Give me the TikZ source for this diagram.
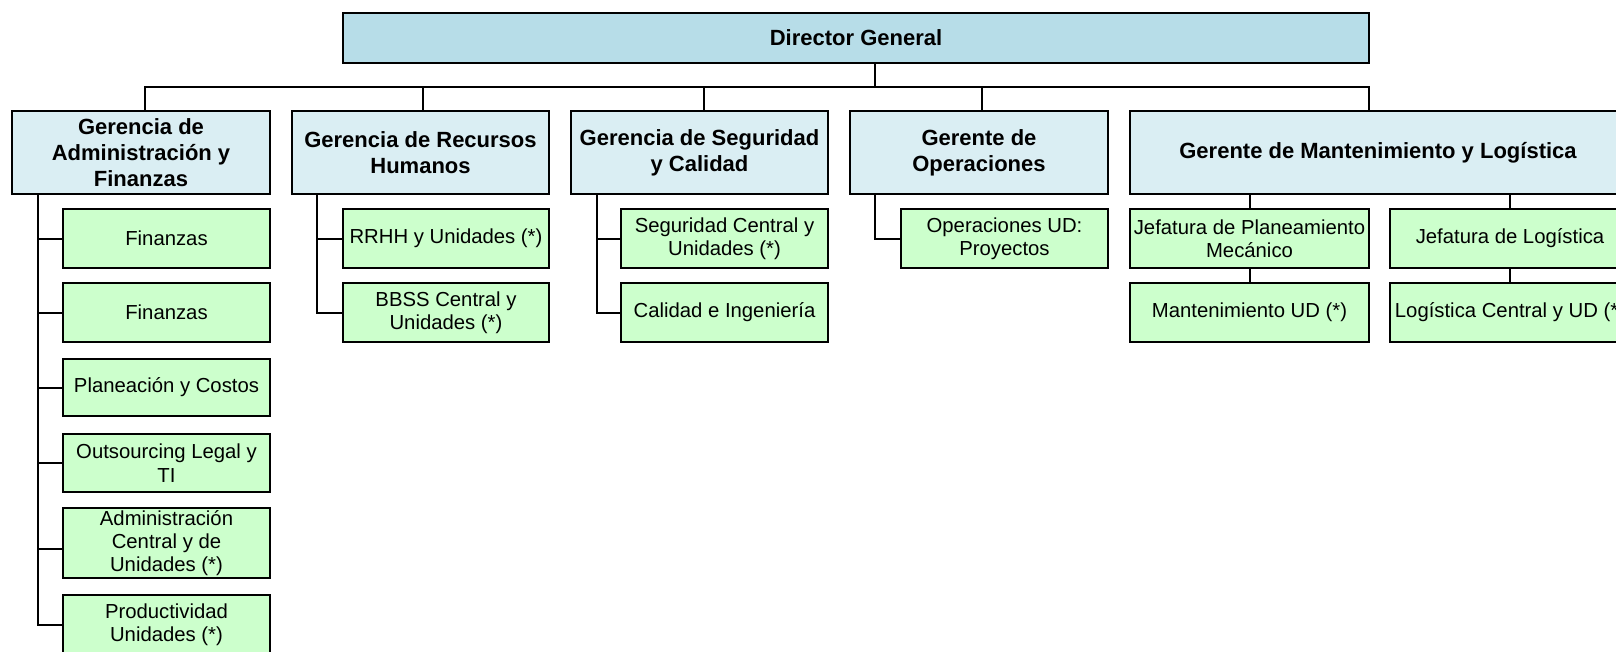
\documentclass[tikz,border=0pt]{standalone}
\usepackage{fontspec}
\setmainfont{Liberation Sans}
\definecolor{dirc}{HTML}{B7DDE8}
\definecolor{gerc}{HTML}{DAEEF3}
\definecolor{jefc}{HTML}{CCFFCC}
\begin{document}
\begin{tikzpicture}[x=1pt,y=-1pt,
 box/.style={draw=black,line width=2pt,inner sep=0pt,align=center,anchor=center},
 dirbox/.style={box,fill=dirc,font=\fontsize{22}{25.8}\selectfont\bfseries},
 gerbox/.style={box,fill=gerc,minimum height=83pt,font=\fontsize{22}{25.8}\selectfont\bfseries},
 jefbox/.style={box,fill=jefc,font=\fontsize{20.3}{23.3}\selectfont},
 conn/.style={draw=black,line width=2pt}]
\useasboundingbox (0,0) rectangle (1616,651);
\clip (0,0) rectangle (1616,651);

% level 1
\node[dirbox,minimum width=1026pt,minimum height=50.5pt] (dir) at (856,37.75) {Director General};

% level 2
\node[gerbox,minimum width=258pt] (adm) at (141,152.5) {Gerencia de\\Administración y\\Finanzas};
\node[gerbox,minimum width=257pt] (rrhh) at (420.5,152.5) {Gerencia de Recursos\\Humanos};
\node[gerbox,minimum width=257pt] (seg) at (699.5,152.5) {Gerencia de Seguridad\\y Calidad};
\node[gerbox,minimum width=258pt] (ope) at (979,152.5) {Gerente de\\Operaciones};
\node[gerbox,minimum width=496pt] (man) at (1378,152.5) {Gerente de Mantenimiento y Logística};

% admin children
\node[jefbox,minimum width=207pt,minimum height=59pt] (a1) at (166.5,238.5) {Finanzas};
\node[jefbox,minimum width=207pt,minimum height=59pt] (a2) at (166.5,312.5) {Finanzas};
\node[jefbox,minimum width=207pt,minimum height=57pt] (a3) at (166.5,387.5) {Planeación y Costos};
\node[jefbox,minimum width=207pt,minimum height=58pt] (a4) at (166.5,463) {Outsourcing Legal y\\TI};
\node[jefbox,minimum width=207pt,minimum height=70pt] (a5) at (166.5,543) {Administración\\Central y de\\Unidades (*)};
\node[jefbox,minimum width=207pt,minimum height=60pt] (a6) at (166.5,625) {Productividad\\Unidades (*)};

% rrhh children
\node[jefbox,minimum width=206pt,minimum height=59pt] (r1) at (446,238.5) {RRHH y Unidades (*)};
\node[jefbox,minimum width=206pt,minimum height=59pt] (r2) at (446,312.5) {BBSS Central y\\Unidades (*)};

% seguridad children
\node[jefbox,minimum width=207pt,minimum height=59pt] (s1) at (724.5,238.5) {Seguridad Central y\\Unidades (*)};
\node[jefbox,minimum width=207pt,minimum height=59pt] (s2) at (724.5,312.5) {Calidad e Ingeniería};

% operaciones child
\node[jefbox,minimum width=207pt,minimum height=59pt] (o1) at (1004.5,238.5) {Operaciones UD:\\Proyectos};

% mantenimiento children
\node[jefbox,minimum width=239pt,minimum height=59pt] (jp) at (1249.5,238.5) {Jefatura de Planeamiento\\Mecánico};
\node[jefbox,minimum width=240pt,minimum height=59pt] (jl) at (1510,238.5) {Jefatura de Logística};
\node[jefbox,minimum width=239pt,minimum height=59pt] (mu) at (1249.5,312.5) {Mantenimiento UD (*)};
\node[jefbox,minimum width=240pt,minimum height=59pt] (lc) at (1510,312.5) {Logística Central y UD (*)};

% bus
\coordinate (bj) at (875,87);
\coordinate (b1) at (145,87);
\coordinate (b2) at (423,87);
\coordinate (b3) at (704,87);
\coordinate (b4) at (982,87);
\coordinate (b5) at (1369,87);
\draw[conn] (dir.south -| bj) -- (bj);
\draw[conn] (b1 |- adm.north) -- (b1) -- (b5) -- (b5 |- man.north);
\draw[conn] (b2) -- (b2 |- rrhh.north);
\draw[conn] (b3) -- (b3 |- seg.north);
\draw[conn] (b4) -- (b4 |- ope.north);

% admin branch
\coordinate (av) at (38,0);
\coordinate (a5c) at ([yshift=-5.5pt]a5.west);
\draw[conn] (adm.south -| av) |- (a6.west);
\draw[conn] (av |- a1.west) -- (a1.west);
\draw[conn] (av |- a2.west) -- (a2.west);
\draw[conn] (av |- a3.west) -- (a3.west);
\draw[conn] (av |- a4.west) -- (a4.west);
\draw[conn] (a5c -| av) -- (a5c);

% rrhh branch
\coordinate (rv) at (317,0);
\draw[conn] (rrhh.south -| rv) |- (r2.west);
\draw[conn] (rv |- r1.west) -- (r1.west);

% seguridad branch
\coordinate (sv) at (597,0);
\draw[conn] (seg.south -| sv) |- (s2.west);
\draw[conn] (sv |- s1.west) -- (s1.west);

% operaciones branch
\coordinate (ov) at (875,0);
\draw[conn] (ope.south -| ov) |- (o1.west);

% mantenimiento branch
\draw[conn] (man.south -| jp.north) -- (jp.north);
\draw[conn] (man.south -| jl.north) -- (jl.north);
\draw[conn] (jp.south) -- (mu.north);
\draw[conn] (jl.south) -- (lc.north);
\end{tikzpicture}
\end{document}
